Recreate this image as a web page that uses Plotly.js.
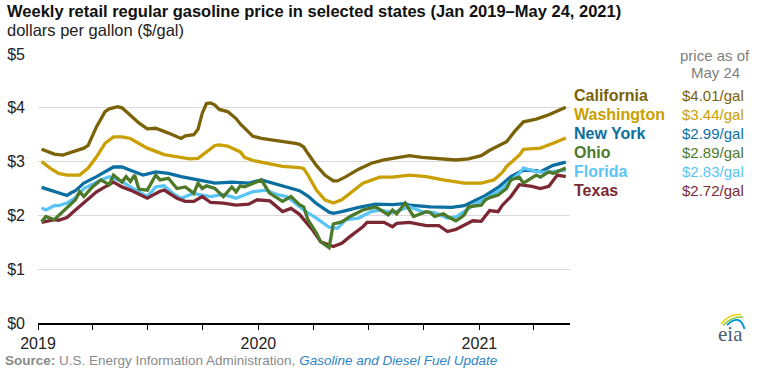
<!DOCTYPE html>
<html>
<head>
<meta charset="utf-8">
<script src="https://cdn.plot.ly/plotly-3.0.1.min.js"></script>
<style>html,body{margin:0;padding:0;background:#fff;}#chart{width:763px;height:368px;}</style>
</head>
<body>
<div id="chart"></div>
<script>
// ---- data (week index counted from 2019-01-07, weekly Mondays) ----
const states = ['California', 'Washington', 'New York', 'Ohio', 'Florida', 'Texas'];
const latestPrice = [4.01, 3.44, 2.99, 2.89, 2.83, 2.72];
const asOfLabel = ['price as of', 'May 24'];
const yearLabels = ['2019', '2020', '2021'];
const yTickValues = [0, 1, 2, 3, 4, 5];

const caWeek = [0,3,5,8,10,11,13,15,16,18,19,21,23,25,27,30,33,34,36,37,38,39,40,41,42,44,46,47,48,50,52,54,57,60,61,62,63,65,67,69,70,72,75,78,81,84,87,90,94,98,101,104,106,108,110,112,114,117,120,122,124];
const caPrice = [3.23,3.14,3.12,3.20,3.25,3.30,3.65,3.93,3.98,4.02,4.00,3.86,3.72,3.61,3.62,3.53,3.43,3.48,3.50,3.60,3.90,4.08,4.09,4.05,3.97,3.93,3.80,3.70,3.62,3.47,3.43,3.41,3.38,3.34,3.32,3.27,3.15,2.93,2.75,2.64,2.64,2.72,2.86,2.97,3.03,3.07,3.11,3.08,3.05,3.03,3.05,3.11,3.21,3.29,3.37,3.57,3.74,3.79,3.87,3.94,4.01];

const waWeek = [0,2,4,6,9,11,13,15,17,19,21,25,29,33,35,37,39,41,42,44,47,48,50,54,57,61,62,63,65,67,69,71,73,76,80,83,87,91,95,100,104,107,109,110,113,114,118,120,121,124];
const waPrice = [3.00,2.88,2.78,2.75,2.75,2.88,3.09,3.34,3.46,3.46,3.43,3.25,3.13,3.08,3.05,3.06,3.18,3.30,3.31,3.29,3.18,3.08,3.02,2.95,2.91,2.89,2.87,2.75,2.47,2.29,2.23,2.29,2.41,2.60,2.71,2.71,2.75,2.72,2.66,2.60,2.60,2.66,2.80,2.91,3.12,3.23,3.25,3.30,3.34,3.44];

const nyWeek = [0,3,6,7,8,10,13,17,19,21,24,27,30,33,37,41,45,49,52,56,59,61,63,65,68,69,71,75,79,83,86,87,92,97,100,102,105,108,111,114,117,118,121,124];
const nyPrice = [2.52,2.45,2.37,2.42,2.46,2.60,2.72,2.90,2.90,2.84,2.75,2.81,2.78,2.72,2.66,2.60,2.62,2.60,2.66,2.57,2.51,2.46,2.36,2.22,2.06,2.04,2.07,2.15,2.21,2.20,2.22,2.19,2.16,2.15,2.18,2.25,2.37,2.52,2.72,2.84,2.83,2.81,2.93,2.99];

const ohWeek = [0,1,3,6,8,9,10,12,14,16,17,19,20,21,22,23,25,27,28,30,32,34,36,37,38,39,41,43,44,45,46,47,48,50,52,53,54,57,59,61,62,63,65,66,68,69,71,73,76,79,82,83,84,86,88,91,92,93,95,96,98,99,100,101,104,105,106,108,110,111,113,114,117,118,120,121,124];
const ohPrice = [1.88,1.98,1.92,2.13,2.29,2.44,2.35,2.53,2.66,2.57,2.75,2.62,2.72,2.63,2.75,2.49,2.47,2.75,2.66,2.69,2.50,2.53,2.41,2.60,2.50,2.55,2.50,2.35,2.44,2.53,2.44,2.55,2.53,2.60,2.66,2.53,2.41,2.26,2.35,2.20,2.16,1.92,1.67,1.51,1.40,1.84,1.88,1.98,2.10,2.16,2.01,2.10,2.03,2.23,1.98,2.07,2.05,1.98,2.03,1.98,1.90,1.95,2.01,2.16,2.19,2.29,2.33,2.38,2.50,2.66,2.71,2.60,2.75,2.71,2.81,2.78,2.88];

const flWeek = [0,1,3,4,6,8,10,14,16,19,21,25,27,29,31,33,36,37,40,43,46,50,53,56,58,62,65,68,70,72,75,78,80,83,87,90,93,96,98,101,103,106,109,111,113,114,117,119,122,124];
const flPrice = [2.14,2.10,2.18,2.18,2.23,2.33,2.50,2.66,2.72,2.63,2.53,2.35,2.53,2.55,2.41,2.32,2.41,2.39,2.35,2.39,2.32,2.44,2.47,2.38,2.35,2.10,1.95,1.78,1.76,1.92,1.95,2.07,2.10,2.05,2.16,2.07,2.05,1.95,1.97,2.13,2.23,2.35,2.50,2.65,2.78,2.88,2.82,2.80,2.82,2.84];

const txWeek = [0,3,4,6,8,10,13,15,17,19,21,25,28,29,32,34,36,38,40,43,46,49,51,54,57,59,61,64,66,69,71,73,76,77,81,83,84,87,91,94,96,98,100,102,104,106,108,109,111,113,116,118,120,122,124];
const txPrice = [1.87,1.92,1.91,1.96,2.10,2.23,2.44,2.53,2.62,2.53,2.47,2.32,2.45,2.47,2.32,2.26,2.26,2.35,2.24,2.23,2.19,2.21,2.29,2.27,2.07,2.13,2.02,1.74,1.51,1.42,1.48,1.61,1.79,1.87,1.87,1.79,1.85,1.87,1.81,1.81,1.70,1.74,1.82,1.90,1.89,2.09,2.07,2.19,2.35,2.57,2.54,2.50,2.54,2.75,2.72];

// ---- styling ----
const colors = {
  'California': '#7b6207',
  'Washington': '#c9a000',
  'New York': '#0b6fa1',
  'Ohio': '#4d7a2a',
  'Florida': '#5ac5f4',
  'Texas': '#7b2834'
};
const FONT = '"Liberation Sans", Arial, sans-serif';

const start = Date.UTC(2019, 0, 7);
function toDates(weeks) {
  return weeks.map(w => new Date(start + w * 7 * 86400000).toISOString().slice(0, 10));
}

const seriesData = {
  'California': [caWeek, caPrice],
  'Washington': [waWeek, waPrice],
  'New York': [nyWeek, nyPrice],
  'Florida': [flWeek, flPrice],
  'Texas': [txWeek, txPrice],
  'Ohio': [ohWeek, ohPrice]
};
const drawOrder = ['California', 'Washington', 'New York', 'Florida', 'Texas', 'Ohio'];
const traces = drawOrder.map(name => ({
  type: 'scatter',
  mode: 'lines',
  name: name,
  x: toDates(seriesData[name][0]),
  y: seriesData[name][1],
  line: {color: colors[name], width: 3.3, shape: 'linear'},
  hoverinfo: 'skip'
}));

// plot area in pixels
const L = 38, R = 570, T = 54, B = 323;
const px = X => (X - L) / (R - L);
const py = Y => (B - Y) / (B - T);

// quarterly ticks, labelled only at years
const quarterTicks = [];
const quarterText = [];
['2019', '2020', '2021'].forEach((yr, i) => {
  ['01', '04', '07', '10'].forEach((m, j) => {
    const d = yr + '-' + m + '-01';
    if (d <= '2021-04-01') {
      quarterTicks.push(d);
      quarterText.push(j === 0 ? yearLabels[i] : '');
    }
  });
});

const annotations = [];
annotations.push({
  xref: 'paper', yref: 'paper', x: px(5), y: py(10.8), xanchor: 'left', yanchor: 'middle',
  text: '<b>Weekly retail regular gasoline price in selected states (Jan 2019\u2013May 24, 2021)</b>',
  showarrow: false, font: {family: FONT, size: 16.5, color: '#111'}
});
annotations.push({
  xref: 'paper', yref: 'paper', x: px(5), y: py(30.3), xanchor: 'left', yanchor: 'middle',
  text: 'dollars per gallon ($/gal)',
  showarrow: false, font: {family: FONT, size: 16.5, color: '#222'}
});
annotations.push({
  xref: 'paper', yref: 'paper', x: px(715), y: py(55.5), xanchor: 'center', yanchor: 'middle',
  text: asOfLabel[0], showarrow: false, font: {family: FONT, size: 15, color: '#808080'}
});
annotations.push({
  xref: 'paper', yref: 'paper', x: px(715), y: py(72.5), xanchor: 'center', yanchor: 'middle',
  text: asOfLabel[1], showarrow: false, font: {family: FONT, size: 15, color: '#808080'}
});
states.forEach((s, i) => {
  const yc = 95.5 + 19 * i;
  annotations.push({
    xref: 'paper', yref: 'paper', x: px(572), y: py(yc), xanchor: 'left', yanchor: 'middle',
    text: '<b>' + s + '</b>', showarrow: false, font: {family: FONT, size: 16, color: colors[s]}
  });
  annotations.push({
    xref: 'paper', yref: 'paper', x: px(680), y: py(yc), xanchor: 'left', yanchor: 'middle',
    text: '$' + latestPrice[i].toFixed(2) + '/gal', showarrow: false, font: {family: FONT, size: 15, color: colors[s]}
  });
});
annotations.push({
  xref: 'paper', yref: 'paper', x: px(3), y: py(360.5), xanchor: 'left', yanchor: 'middle',
  text: '<b>Source:</b> U.S. Energy Information Administration, <i><span style="color:#2f84c6">Gasoline and Diesel Fuel Update</span></i>',
  showarrow: false, font: {family: FONT, size: 13.5, color: '#8a8a8a'}
});
// eia logo text
annotations.push({
  xref: 'paper', yref: 'paper', x: px(730), y: py(334), xanchor: 'center', yanchor: 'middle',
  text: 'eia', showarrow: false, font: {family: '"Liberation Serif", "DejaVu Serif", serif', size: 21, color: '#4a5e70'}
});

function P(X, Y) { return px(X).toFixed(5) + ',' + py(Y).toFixed(5); }
const shapes = [
  {type: 'path', xref: 'paper', yref: 'paper', path: 'M' + P(721, 324) + ' Q' + P(728, 314) + ' ' + P(741, 314.5),
   line: {color: '#f2cf00', width: 1.6}},
  {type: 'path', xref: 'paper', yref: 'paper', path: 'M' + P(723, 325.5) + ' Q' + P(731, 316.5) + ' ' + P(743, 317),
   line: {color: '#8cc63f', width: 1.6}},
  {type: 'path', xref: 'paper', yref: 'paper', path: 'M' + P(727, 325) + ' Q' + P(740, 313) + ' ' + P(744.5, 329),
   line: {color: '#0096d6', width: 1.8}}
];

const layout = {
  width: 763, height: 368,
  margin: {l: L, r: 763 - R, t: T, b: 368 - B, pad: 0},
  paper_bgcolor: '#fff', plot_bgcolor: '#fff',
  showlegend: false,
  font: {family: FONT, size: 16, color: '#222'},
  xaxis: {
    type: 'date', range: ['2019-01-01', '2021-05-31'],
    tickmode: 'array', tickvals: quarterTicks, ticktext: quarterText,
    ticks: 'outside', ticklen: 5, tickwidth: 1, tickcolor: '#000',
    showline: true, linecolor: '#000', linewidth: 1.5,
    showgrid: false, zeroline: false,
    tickfont: {family: FONT, size: 16, color: '#222'}
  },
  yaxis: {
    range: [0, 5], tickmode: 'array', tickvals: yTickValues,
    ticktext: yTickValues.map(v => '$' + v),
    showgrid: true, gridcolor: '#dadada', gridwidth: 1.3,
    zeroline: false, showline: false, ticks: '',
    ticklabelstandoff: 12,
    tickfont: {family: FONT, size: 16, color: '#222'}
  },
  annotations: annotations,
  shapes: shapes
};

Plotly.newPlot('chart', traces, layout, {staticPlot: true, displayModeBar: false});
</script>
</body>
</html>
